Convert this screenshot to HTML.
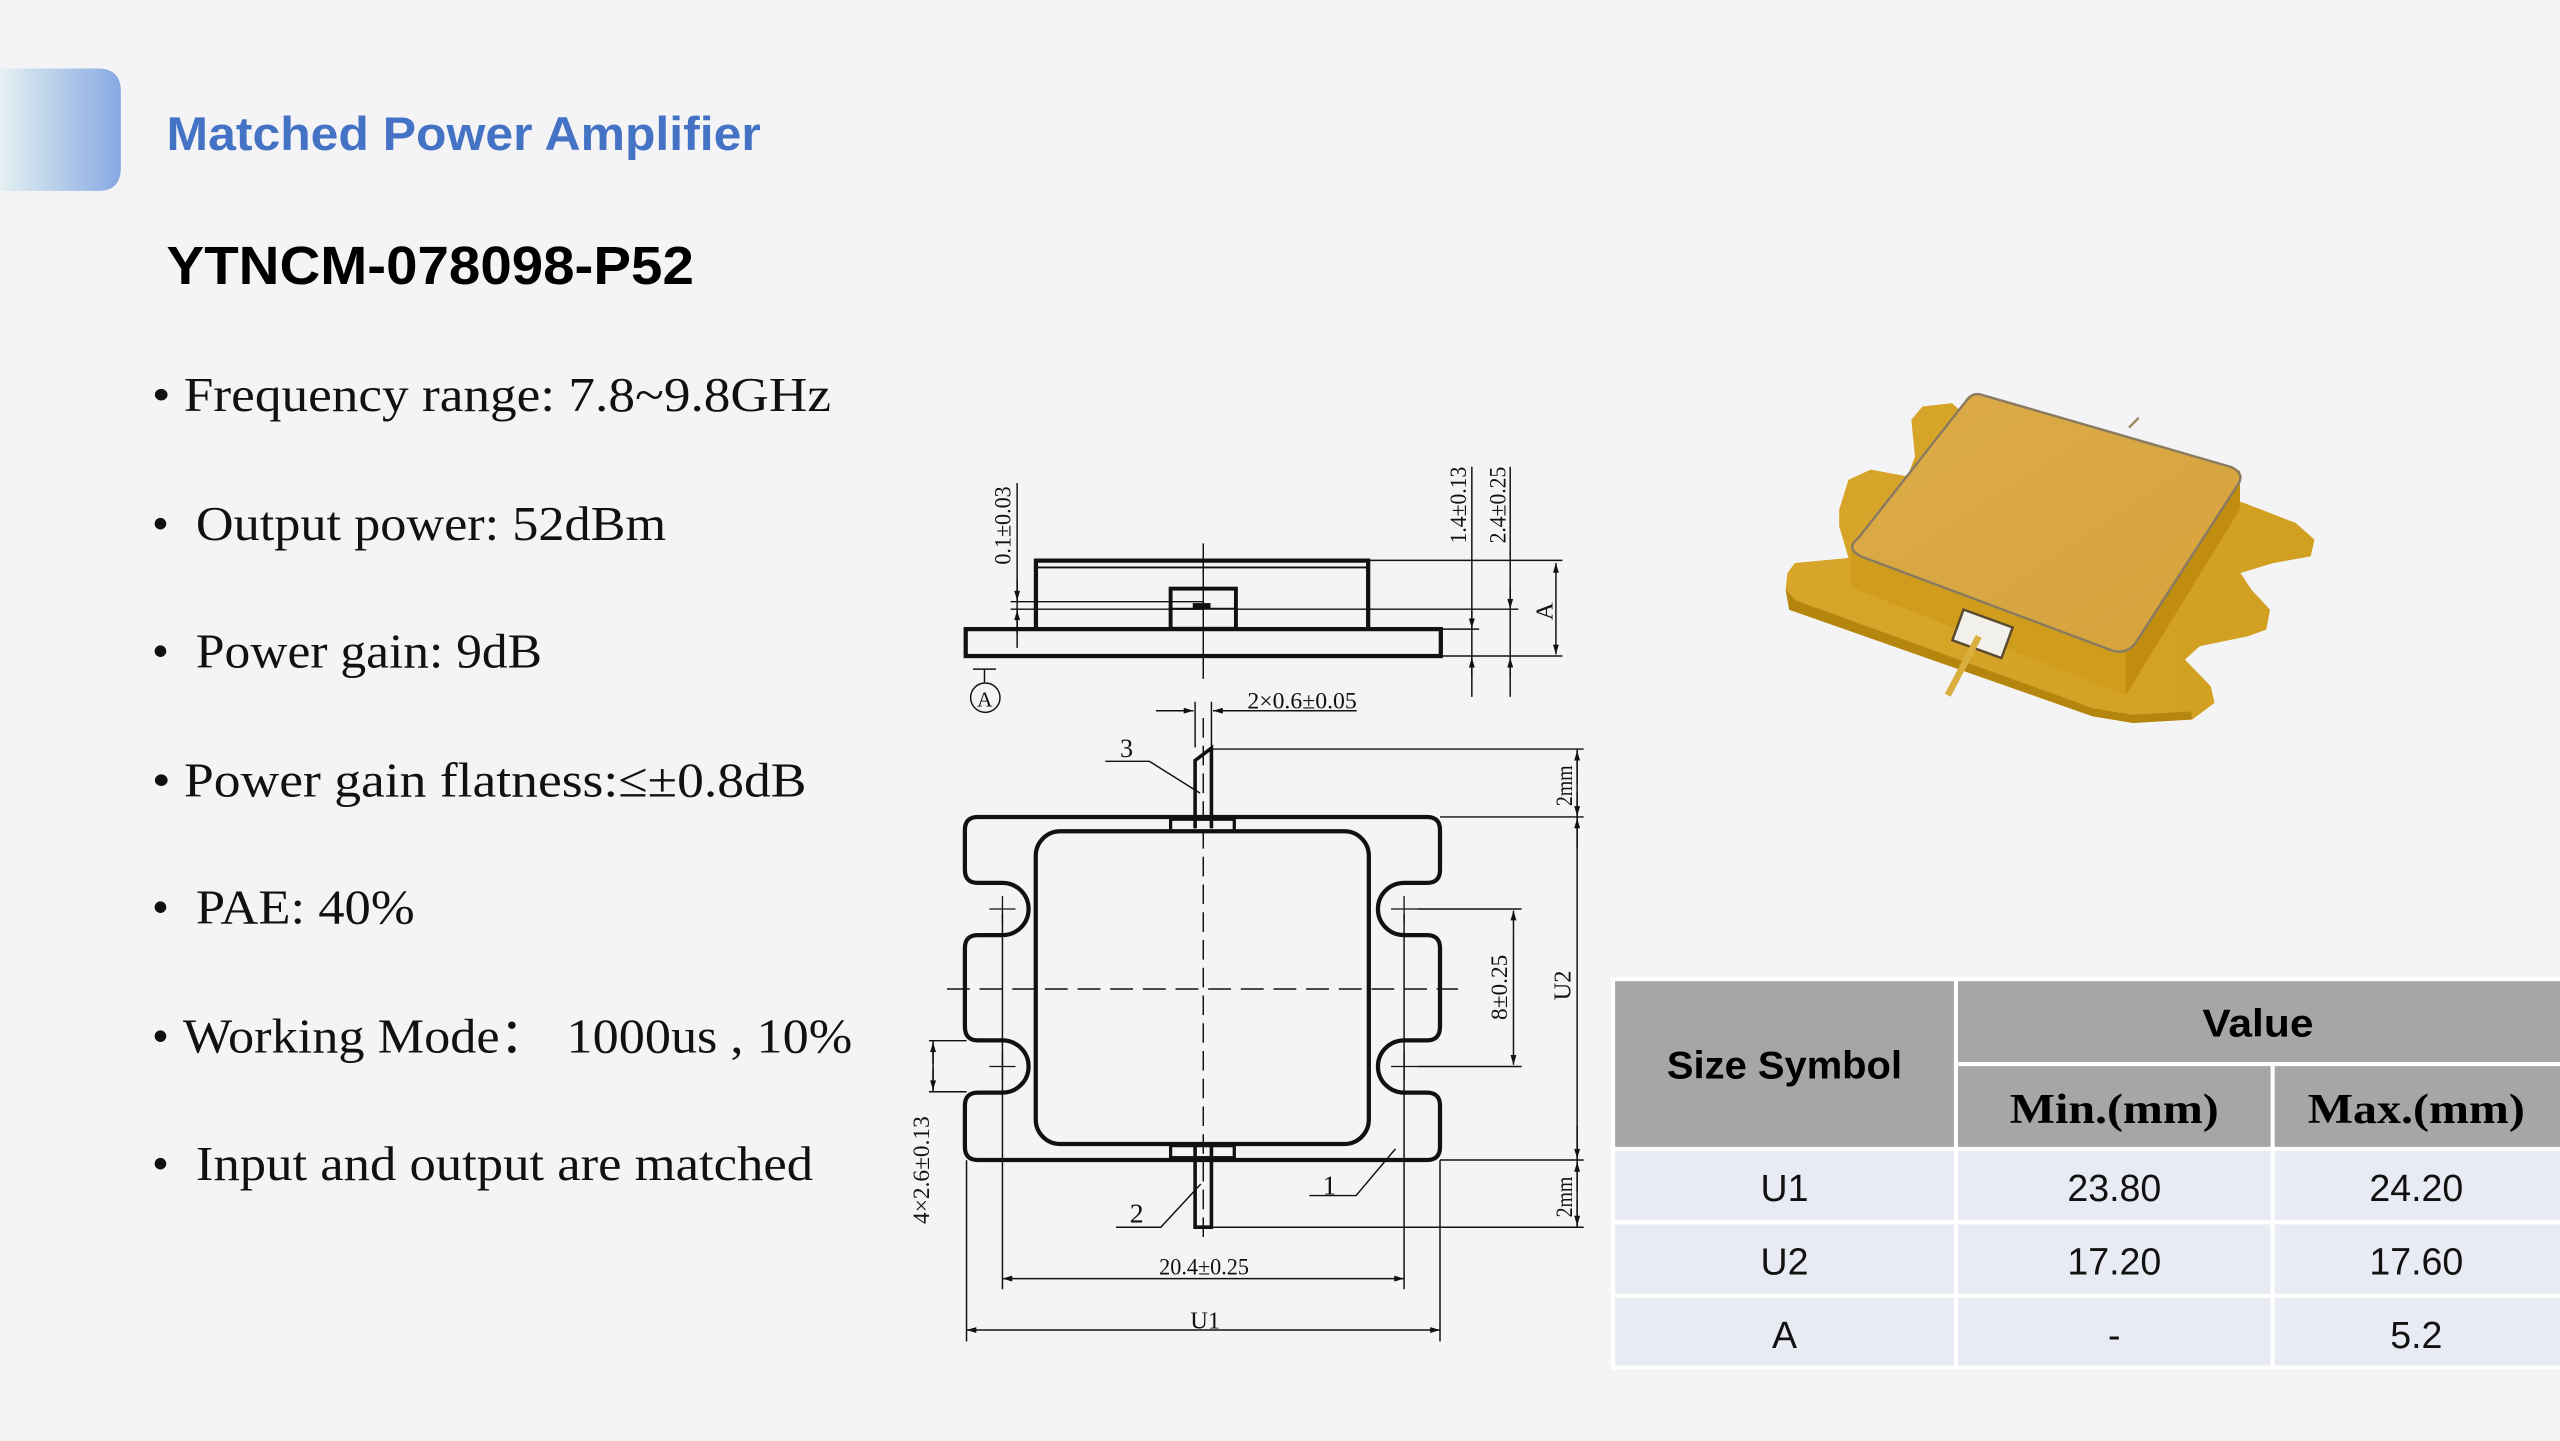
<!DOCTYPE html>
<html><head><meta charset="utf-8"><style>
html,body{margin:0;padding:0;background:#f4f4f6;}
svg{display:block}
</style></head><body>
<svg width="2560" height="1441" viewBox="0 0 1568 883" preserveAspectRatio="none" xmlns="http://www.w3.org/2000/svg">
<defs>
<linearGradient id="hb" x1="0" x2="1" y1="0" y2="0"><stop offset="0" stop-color="#e4f0f2"/><stop offset="1" stop-color="#86a8e2"/></linearGradient>
<linearGradient id="lid" x1="0" x2="1" y1="0" y2="1"><stop offset="0" stop-color="#dcac48"/><stop offset="1" stop-color="#d6a23c"/></linearGradient>
<linearGradient id="fl" x1="0" x2="1" y1="0" y2="0"><stop offset="0" stop-color="#d7a52a"/><stop offset="1" stop-color="#d2a020"/></linearGradient>
<marker id="ar" viewBox="0 0 10 6" refX="10" refY="3" markerWidth="8" markerHeight="4" orient="auto-start-reverse"><path d="M0,0L10,3L0,6z" fill="#111"/></marker>
</defs>
<rect width="1568" height="883" fill="#f4f4f6"/>
<path d="M0,42 H60 Q74,42 74,56 V103 Q74,117 60,117 H0 Z" fill="url(#hb)"/>
<text x="102" y="92" font-family="Liberation Sans, sans-serif" font-weight="bold" font-size="29" fill="#4472c4" textLength="364" lengthAdjust="spacingAndGlyphs">Matched Power Amplifier</text>
<text x="102" y="174" font-family="Liberation Sans, sans-serif" font-weight="bold" font-size="33" fill="#000" textLength="323" lengthAdjust="spacingAndGlyphs">YTNCM-078098-P52</text>
<g font-family="Liberation Serif, serif" font-size="30" fill="#111">
<text x="93" y="252" textLength="416" lengthAdjust="spacingAndGlyphs">• Frequency range: 7.8~9.8GHz</text>
<text x="93" y="331">•</text><text x="120" y="331" textLength="288" lengthAdjust="spacingAndGlyphs">Output power: 52dBm</text>
<text x="93" y="409">•</text><text x="120" y="409" textLength="212" lengthAdjust="spacingAndGlyphs">Power gain: 9dB</text>
<text x="93" y="488" textLength="401" lengthAdjust="spacingAndGlyphs">• Power gain flatness:≤±0.8dB</text>
<text x="93" y="566">•</text><text x="120" y="566" textLength="134" lengthAdjust="spacingAndGlyphs">PAE: 40%</text>
<text x="93" y="645">•</text><text x="112" y="645" textLength="194" lengthAdjust="spacingAndGlyphs">Working Mode</text><text x="306" y="645">：</text><text x="347" y="645" textLength="175" lengthAdjust="spacingAndGlyphs">1000us , 10%</text>
<text x="93" y="723">•</text><text x="120" y="723" textLength="378" lengthAdjust="spacingAndGlyphs">Input and output are matched</text>
</g>
<g stroke="#111" fill="none" stroke-width="0.9">
<rect x="591.5" y="385.5" width="291" height="16.5" stroke-width="2.6"/>
<path d="M634.5,385.5 V343.5 H838 V385.5" stroke-width="2.6"/>
<line x1="635" y1="347.7" x2="838" y2="347.7" stroke-width="1.2"/>
<rect x="717" y="360.7" width="40" height="24.6" stroke-width="2.4"/>
<line x1="717" y1="373" x2="757" y2="373" stroke-width="1.2"/>
<rect x="731" y="370" width="10" height="3" fill="#111"/>
<line x1="737" y1="333" x2="737" y2="416"/>
<line x1="619" y1="368.7" x2="737" y2="368.7"/>
<line x1="619" y1="373.3" x2="737" y2="373.3"/>
<line x1="623" y1="296" x2="623" y2="397"/>
<line x1="623" y1="355" x2="623" y2="368" marker-end="url(#ar)"/>
<line x1="623" y1="388" x2="623" y2="374" marker-end="url(#ar)"/>
<line x1="838" y1="343.4" x2="957" y2="343.4"/>
<line x1="757" y1="373.3" x2="930" y2="373.3"/>
<line x1="882" y1="385.5" x2="906" y2="385.5"/>
<line x1="882" y1="402" x2="957" y2="402"/>
<line x1="901.5" y1="286" x2="901.5" y2="427"/>
<line x1="925" y1="286" x2="925" y2="427"/>
<line x1="901.5" y1="372" x2="901.5" y2="385" marker-end="url(#ar)"/>
<line x1="901.5" y1="415" x2="901.5" y2="403" marker-end="url(#ar)"/>
<line x1="925" y1="360" x2="925" y2="373" marker-end="url(#ar)"/>
<line x1="925" y1="415" x2="925" y2="403" marker-end="url(#ar)"/>
<line x1="953" y1="345" x2="953" y2="401" marker-start="url(#ar)" marker-end="url(#ar)"/>
<line x1="596" y1="410" x2="610" y2="410"/><line x1="603" y1="410" x2="603" y2="418"/>
<ellipse cx="603.5" cy="427.5" rx="9" ry="9"/>
<path stroke-width="2.6" d="M599,500.6 H874 Q882,500.6 882,508.6 V533 Q882,541 874,541 H860 A16,16 0 0 0 860,573 H874 Q882,573 882,581 V629 Q882,637.5 874,637.5 H860 A16,16 0 0 0 860,669.5 H874 Q882,669.5 882,677.5 V702.8 Q882,710.8 874,710.8 H599 Q591,710.8 591,702.8 V677.5 Q591,669.5 599,669.5 H614 A16,16 0 0 0 614,637.5 H599 Q591,637.5 591,629 V581 Q591,573 599,573 H614 A16,16 0 0 0 614,541 H599 Q591,541 591,533 V508.6 Q591,500.6 599,500.6 Z"/>
<rect x="634.4" y="509.4" width="204" height="191.6" rx="15" stroke-width="2.6"/>
<path d="M732,507.6 V466 L742,458.4 V507.6" stroke-width="2.2"/>
<rect x="717" y="502" width="39" height="7.4" stroke-width="2"/>
<path d="M732,702.7 V752 H742 V702.7" stroke-width="2.2"/>
<rect x="717" y="702" width="39" height="7.4" stroke-width="2"/>
<g stroke-width="0.8">
<path d="M606,557 H622 M614,549 V565"/><path d="M606,653.5 H622 M614,645.5 V661.5"/>
<path d="M852,557 H868 M860,549 V565"/><path d="M852,653.5 H868 M860,645.5 V661.5"/>
</g>
<line x1="737" y1="440" x2="737" y2="760" stroke-dasharray="12,5"/>
<line x1="580" y1="606" x2="893" y2="606" stroke-dasharray="14,6"/>
<line x1="732" y1="430" x2="732" y2="458"/><line x1="742" y1="430" x2="742" y2="458"/>
<line x1="708" y1="435.5" x2="731" y2="435.5" marker-end="url(#ar)"/>
<line x1="831" y1="435.5" x2="743" y2="435.5"/>
<line x1="760" y1="435.5" x2="743" y2="435.5" marker-end="url(#ar)"/>
<path d="M677,466.5 H704 L735,486"/>
<line x1="742" y1="459" x2="970" y2="459"/>
<line x1="882" y1="500.6" x2="970" y2="500.6"/>
<line x1="882" y1="710.8" x2="970" y2="710.8"/>
<line x1="742" y1="752" x2="970" y2="752"/>
<line x1="966" y1="459" x2="966" y2="752"/>
<line x1="966" y1="480" x2="966" y2="460" marker-end="url(#ar)"/>
<line x1="966" y1="485" x2="966" y2="500" marker-end="url(#ar)"/>
<line x1="966" y1="520" x2="966" y2="501.5" marker-end="url(#ar)"/>
<line x1="966" y1="690" x2="966" y2="710" marker-end="url(#ar)"/>
<line x1="966" y1="730" x2="966" y2="712" marker-end="url(#ar)"/>
<line x1="966" y1="735" x2="966" y2="751" marker-end="url(#ar)"/>
<line x1="868" y1="557" x2="932" y2="557"/><line x1="868" y1="653.5" x2="932" y2="653.5"/>
<line x1="927" y1="570" x2="927" y2="558" marker-end="url(#ar)"/>
<line x1="927" y1="570" x2="927" y2="640"/>
<line x1="927" y1="640" x2="927" y2="652.5" marker-end="url(#ar)"/>
<line x1="569" y1="637.7" x2="592" y2="637.7"/><line x1="569" y1="669" x2="592" y2="669"/>
<line x1="571.5" y1="637.7" x2="571.5" y2="669"/>
<line x1="571.5" y1="652" x2="571.5" y2="638.7" marker-end="url(#ar)"/>
<line x1="571.5" y1="655" x2="571.5" y2="668" marker-end="url(#ar)"/>
<path d="M802,732.6 H830.6 L854.7,704"/>
<path d="M683.6,752 H711 L735.5,725.5"/>
<line x1="614" y1="560" x2="614" y2="790"/><line x1="860" y1="560" x2="860" y2="790"/>
<line x1="614" y1="783.5" x2="860" y2="783.5" marker-start="url(#ar)" marker-end="url(#ar)"/>
<line x1="592" y1="711" x2="592" y2="822"/><line x1="882" y1="711" x2="882" y2="822"/>
<line x1="592" y1="815" x2="882" y2="815" marker-start="url(#ar)" marker-end="url(#ar)"/>
</g>
<g font-family="Liberation Serif, serif" fill="#111" font-size="14">
<text transform="translate(619,346) rotate(-90)" textLength="48" lengthAdjust="spacingAndGlyphs">0.1±0.03</text>
<text transform="translate(898,333) rotate(-90)" textLength="47" lengthAdjust="spacingAndGlyphs">1.4±0.13</text>
<text transform="translate(922,333) rotate(-90)" textLength="47" lengthAdjust="spacingAndGlyphs">2.4±0.25</text>
<text transform="translate(951,380) rotate(-90)" font-size="15">A</text>
<text x="598.5" y="433" font-size="13">A</text>
<text x="764" y="434" textLength="67" lengthAdjust="spacingAndGlyphs">2×0.6±0.05</text>
<text x="686" y="464" font-size="16">3</text>
<text transform="translate(963,494) rotate(-90)" textLength="25" lengthAdjust="spacingAndGlyphs">2mm</text>
<text transform="translate(963,746) rotate(-90)" textLength="25" lengthAdjust="spacingAndGlyphs">2mm</text>
<text transform="translate(962,613) rotate(-90)" font-size="15">U2</text>
<text transform="translate(923,625) rotate(-90)" textLength="40" lengthAdjust="spacingAndGlyphs">8±0.25</text>
<text transform="translate(569,750) rotate(-90)" textLength="66" lengthAdjust="spacingAndGlyphs">4×2.6±0.13</text>
<text x="810" y="732" font-size="17">1</text>
<text x="692" y="749" font-size="17">2</text>
<text x="710" y="781" textLength="55" lengthAdjust="spacingAndGlyphs">20.4±0.25</text>
<text x="729" y="814" font-size="15">U1</text>
</g>
<g>
<path d="M1094.8,351.1 L1099.3,345 L1132.2,341.9 L1126.5,322.5 L1126.5,312.3 L1132.2,294 L1145.8,287.8 L1168.4,291.9 L1172.9,279.7 L1170.7,257.2 L1177.5,249.1 L1195.6,247 L1204.6,255.2 L1374.5,308.2 L1406.2,320.5 L1417.6,330.7 L1415.3,340.9 L1392.6,345 L1372.3,351.1 L1379,361.3 L1390.4,373.6 L1388.1,385.8 L1376.8,389.9 L1347.3,396 L1338.3,404.2 L1354.1,420.5 L1356.4,430.7 L1342.8,440.9 L1306.6,443 L1281.6,438.9 L1095.9,373.6 L1093.7,361.3 Z" fill="url(#fl)"/>
<path d="M1093.7,361.3 L1095.9,373.6 L1281.6,438.9 L1306.6,443 L1342.8,440.9 L1342,436 L1306,438 L1282,434 L1100,368 Z" fill="#b5860e"/>
<path d="M1134,337 L1302,398 L1302,426 L1134,360 Z" fill="#cf9c1c"/>
<path d="M1302,398 L1372,288 L1372,312 L1302,426 Z" fill="#c08d0e"/>
<path d="M1214,242 L1366,286 Q1376,290 1370,298 L1308,394 Q1302,402 1292,398 L1140,341 Q1130,336 1138,330 L1204,246 Q1208,240 1214,242 Z" fill="url(#lid)" stroke="#8a7a60" stroke-width="1.5"/>
<rect x="1198" y="378" width="32" height="20" fill="#f2f0ea" stroke="#5a4a30" stroke-width="1.5" transform="rotate(20 1213 389)"/>
<line x1="1212" y1="390" x2="1193" y2="426" stroke="#d9b040" stroke-width="4"/>
<line x1="1304" y1="262" x2="1310" y2="256" stroke="#9a8a60" stroke-width="1.5"/>
</g>
<g font-family="Liberation Sans, sans-serif">
<rect x="988" y="600" width="580" height="104" fill="#a6a6a6"/>
<rect x="988" y="704" width="580" height="134" fill="#e9ebf4"/>
<g stroke="#ffffff" stroke-width="2.5">
<line x1="1198" y1="600" x2="1198" y2="838"/>
<line x1="1392" y1="652" x2="1392" y2="838"/>
<line x1="1198" y1="652" x2="1568" y2="652"/>
<line x1="988" y1="704" x2="1568" y2="704"/>
<line x1="988" y1="749" x2="1568" y2="749"/>
<line x1="988" y1="794" x2="1568" y2="794"/>
<rect x="988" y="600" width="582" height="238" fill="none"/>
</g>
<text x="1093" y="661" text-anchor="middle" font-weight="bold" font-size="24" textLength="144" lengthAdjust="spacingAndGlyphs">Size Symbol</text>
<text x="1383" y="635" text-anchor="middle" font-weight="bold" font-size="24" textLength="68" lengthAdjust="spacingAndGlyphs">Value</text>
<text x="1295" y="688" text-anchor="middle" font-family="Liberation Serif, serif" font-weight="bold" font-size="26" textLength="128" lengthAdjust="spacingAndGlyphs">Min.(mm)</text>
<text x="1480" y="688" text-anchor="middle" font-family="Liberation Serif, serif" font-weight="bold" font-size="26" textLength="133" lengthAdjust="spacingAndGlyphs">Max.(mm)</text>
<g font-size="23" text-anchor="middle" fill="#111">
<text x="1093" y="736">U1</text><text x="1295" y="736">23.80</text><text x="1480" y="736">24.20</text>
<text x="1093" y="781">U2</text><text x="1295" y="781">17.20</text><text x="1480" y="781">17.60</text>
<text x="1093" y="826">A</text><text x="1295" y="826">-</text><text x="1480" y="826">5.2</text>
</g>
</g>
</svg>
</body></html>
